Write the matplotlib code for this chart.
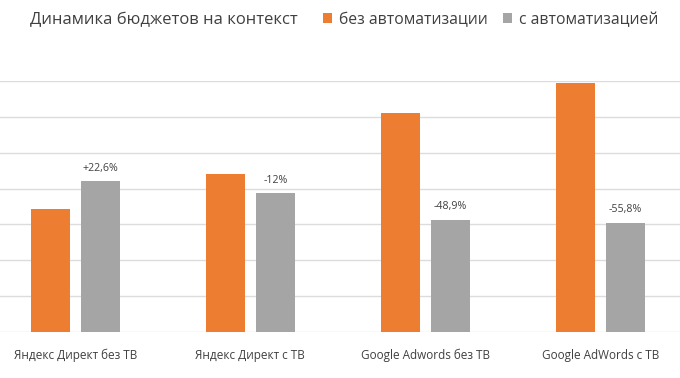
import numpy as np
import matplotlib.pyplot as plt

plt.rcParams['font.family'] = ['Open Sans', 'DejaVu Sans']

categories = ["Яндекс Директ без ТВ", "Яндекс Директ с ТВ",
              "Google Adwords без ТВ", "Google AdWords с ТВ"]
without_auto = [3.43, 4.40, 6.11, 6.95]
with_auto = [4.20, 3.87, 3.12, 3.05]
change_labels = ["+22,6%", "-12%", "-48,9%", "-55,8%"]
series_names = ["без автоматизации", "с автоматизацией"]

orange = "#ED7D31"
grey = "#A5A5A5"
text_col = "#404040"

fig = plt.figure(figsize=(6.8, 3.78), dpi=100)
ax = fig.add_axes([-12.2 / 680, 46 / 378, 700 / 680, 251 / 378])

x = np.arange(len(categories))
w = 0.223
off = 0.143
b1 = ax.bar(x - off, without_auto, w, color=orange, label=series_names[0], zorder=3)
b2 = ax.bar(x + off, with_auto, w, color=grey, label=series_names[1], zorder=3)

for rect, lab in zip(b2, change_labels):
    ax.annotate(lab, (rect.get_x() + rect.get_width() / 2, rect.get_height()),
                xytext=(0, 5.5), textcoords="offset points", ha="center", va="bottom",
                fontsize=7.7, color=text_col)

ax.set_xlim(-0.5, 3.5)
ax.set_ylim(0, 7)
ax.set_yticks(np.arange(0, 8))
ax.yaxis.grid(True, color="#dcdcdc", lw=1, zorder=0)
ax.tick_params(axis="y", left=False, labelleft=False)
ax.set_xticks(x)
ax.set_xticklabels(categories, fontsize=8.5, color=text_col)
ax.tick_params(axis="x", length=0, pad=12)
for s in ["top", "right", "left", "bottom"]:
    ax.spines[s].set_visible(False)

fig.text(30 / 680, 1 - 20 / 378, "Динамика бюджетов на контекст", fontsize=12,
         color=text_col, va="center", ha="left")
fig.legend(handles=[b1, b2], loc="center left", bbox_to_anchor=(315 / 680, 1 - 20 / 378),
           ncol=2, frameon=False, fontsize=11.3, handlelength=0.6, handleheight=0.6,
           handletextpad=0.4, columnspacing=1.0, labelcolor=text_col, borderpad=0)

fig.savefig("out.png", dpi=100)
